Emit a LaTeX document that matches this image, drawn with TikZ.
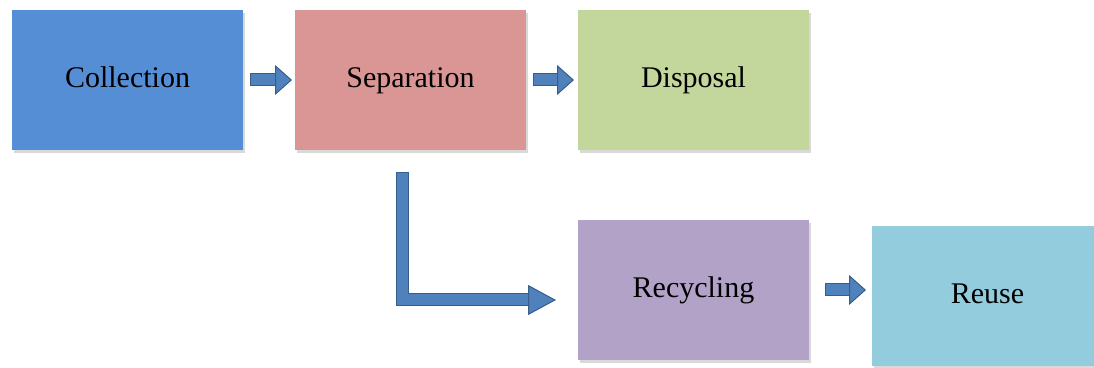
\documentclass[tikz,border=0pt]{standalone}
\usepackage{fontspec}
\setmainfont{Liberation Serif}
\usetikzlibrary{positioning,shadows,arrows.meta}
\definecolor{collectfill}{RGB}{85,142,213}
\definecolor{separatefill}{RGB}{218,150,148}
\definecolor{disposefill}{RGB}{195,214,155}
\definecolor{recyclefill}{RGB}{179,162,199}
\definecolor{reusefill}{RGB}{147,205,221}
\definecolor{flowfill}{RGB}{79,129,189}
\definecolor{flowedge}{RGB}{56,93,138}
\tikzset{
	stage/.style={
		rectangle,
		inner sep=0pt,
		outer sep=0pt,
		minimum width=115.5pt,
		minimum height=70pt,
		text height=11pt,
		text depth=3pt,
		font=\fontsize{15}{18}\selectfont,
		drop shadow={shadow xshift=1pt,shadow yshift=-1.5pt,opacity=0.3}
	},
	flow/.style={
		draw=flowfill,
		line width=5.5pt,
		line join=miter,
		-{Triangle[length=#1,width=15pt,fill=flowfill,color=flowedge,line width=0.5pt]},
		preaction={draw=flowedge,line width=6.5pt,-,shorten >=#1,shorten <=-0.5pt}
	},
	flow/.default=8.5pt
}
\begin{document}
\begin{tikzpicture}

	\useasboundingbox (-63.75pt,40pt) rectangle (483.25pt,-144pt);

	%%% Nodes
	%% Top row
	\node at (0,0) [stage,fill=collectfill] (collection) {Collection};
	\node [right=26pt of collection,stage,fill=separatefill] (separation) {Separation};
	\node [right=26pt of separation,stage,fill=disposefill] (disposal) {Disposal};

	%% Bottom row
	\node [below=35pt of disposal,stage,fill=recyclefill] (recycling) {Recycling};
	\node [right=31.5pt of recycling,yshift=-3pt,stage,fill=reusefill] (reuse) {Reuse};

	%%% Connections
	\draw [flow] ([xshift=4pt]collection.east) -- ([xshift=-1.5pt]separation.west);
	\draw [flow] ([xshift=4pt]separation.east) -- ([xshift=-2pt]disposal.west);
	\draw [flow=14pt] ([xshift=-4.25pt,yshift=-11.5pt]separation.south)
		|- ([xshift=-11pt,yshift=-5pt]recycling.west);
	\draw [flow] ([xshift=8.5pt]recycling.east) -- ([xshift=-3pt]recycling.east -| reuse.west);
\end{tikzpicture}
\end{document}
